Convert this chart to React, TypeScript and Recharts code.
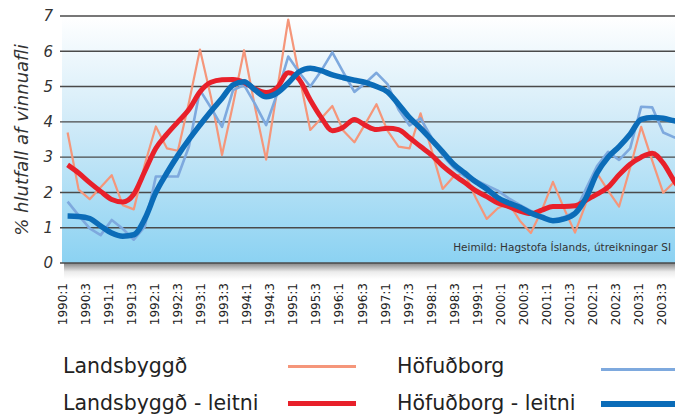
import React from "react";
import { LineChart, Line, XAxis, YAxis, CartesianGrid } from "recharts";

// Quarters of the data series (1990:1 .. 2004:1)
const quarters = [
  "1990:1","1990:2","1990:3","1990:4","1991:1","1991:2","1991:3","1991:4",
  "1992:1","1992:2","1992:3","1992:4","1993:1","1993:2","1993:3","1993:4",
  "1994:1","1994:2","1994:3","1994:4","1995:1","1995:2","1995:3","1995:4",
  "1996:1","1996:2","1996:3","1996:4","1997:1","1997:2","1997:3","1997:4",
  "1998:1","1998:2","1998:3","1998:4","1999:1","1999:2","1999:3","1999:4",
  "2000:1","2000:2","2000:3","2000:4","2001:1","2001:2","2001:3","2001:4",
  "2002:1","2002:2","2002:3","2002:4","2003:1","2003:2","2003:3","2003:4",
  "2004:1",
];

// Landsbyggð (raw)
const landsbyggd = [
  3.70, 2.08, 1.81, 2.15, 2.49, 1.64, 1.52, 2.80, 3.87, 3.25,
  3.18, 4.55, 6.05, 4.70, 3.06, 4.50, 6.03, 4.40, 2.93, 4.90,
  6.90, 5.30, 3.77, 4.10, 4.45, 3.75, 3.42, 3.95, 4.50, 3.75,
  3.30, 3.25, 4.24, 3.20, 2.10, 2.45, 2.55, 1.85, 1.25, 1.55,
  1.69, 1.20, 0.85, 1.50, 2.30, 1.55, 0.86, 1.70, 2.54, 2.05,
  1.60, 2.70, 3.86, 2.90, 1.99, 2.30, 2.60,
];

// Höfuðborg (raw)
const hofudborg = [
  1.74, 1.35, 0.98, 0.79, 1.22, 0.97, 0.66, 1.03, 2.45, 2.45,
  2.45, 3.30, 4.90, 4.40, 3.86, 4.90, 5.04, 4.50, 3.91, 4.80,
  5.85, 5.40, 5.00, 5.45, 5.97, 5.40, 4.85, 5.10, 5.39, 5.07,
  4.35, 3.90, 4.10, 3.55, 3.05, 2.70, 2.45, 2.35, 2.20, 2.05,
  1.83, 1.65, 1.48, 1.30, 1.22, 1.30, 1.45, 2.10, 2.75, 3.15,
  2.92, 3.25, 4.43, 4.41, 3.70, 3.56, 3.50,
];

// Landsbyggð - leitni (trend)
const landsbyggdTrend = [
  2.78, 2.55, 2.28, 2.03, 1.80, 1.73, 1.95, 2.60, 3.25, 3.65,
  4.00, 4.35, 4.85, 5.12, 5.19, 5.20, 5.12, 4.93, 4.83, 4.97,
  5.39, 5.20, 4.62, 4.12, 3.75, 3.85, 4.07, 3.90, 3.78, 3.82,
  3.78, 3.55, 3.30, 3.06, 2.75, 2.50, 2.28, 2.05, 1.88, 1.70,
  1.60, 1.47, 1.40, 1.50, 1.60, 1.60, 1.62, 1.78, 1.95, 2.15,
  2.50, 2.80, 3.00, 3.11, 2.83, 2.32, 1.90,
];

// Höfuðborg - leitni (trend)
const hofudborgTrend = [
  1.33, 1.32, 1.26, 1.05, 0.85, 0.76, 0.80, 1.25, 2.00, 2.55,
  3.05, 3.50, 3.91, 4.30, 4.67, 5.05, 5.14, 4.90, 4.71, 4.82,
  5.10, 5.42, 5.52, 5.45, 5.33, 5.25, 5.18, 5.12, 5.00, 4.85,
  4.50, 4.12, 3.82, 3.49, 3.15, 2.80, 2.55, 2.30, 2.10, 1.85,
  1.70, 1.58, 1.42, 1.30, 1.20, 1.25, 1.40, 1.85, 2.55, 3.00,
  3.30, 3.65, 4.07, 4.12, 4.10, 4.03, 4.00,
];

// Axis tick labels (as printed on the category axis)
const tickLabels = [
  "1990:1","1990:3","1991:1","1991:3","1992:1","1992:3","1993:1","1993:3",
  "1994:1","1994:3","1995:1","1995:3","1996:1","1996:3","1997:1","1997:3",
  "1998:1","1998:3","1999:1","2000:1","2000:3","2001:1","2001:3","2002:1",
  "2002:3","2003:1","2003:3",
];

const yTicks = [0, 1, 2, 3, 4, 5, 6, 7];

const data = quarters.map((q, i) => ({
  q,
  i,
  lands: landsbyggd[i],
  hofud: hofudborg[i],
  landsT: landsbyggdTrend[i],
  hofudT: hofudborgTrend[i],
}));

const labelRows = tickLabels.map((label) => ({ label }));

const FONT = "'DejaVu Sans', Verdana, sans-serif";
const C_ORANGE = "#f5967a";
const C_LIGHTBLUE = "#7ea9de";
const C_RED = "#e8202a";
const C_BLUE = "#0b6cb8";

const CHART_W = 700;
const PLOT_BOTTOM_SPACE = 60;
const CHART_H = 323;
const MARGIN = { top: 16, right: 9, bottom: 0, left: 0 };

const LabelTick = (props: any) => {
  const { x, y, payload } = props;
  const ty = y + 12;
  return (
    <text
      x={x}
      y={ty}
      transform={`rotate(-90 ${x} ${ty})`}
      textAnchor="end"
      dominantBaseline="central"
      fontSize={12}
      fill="#222"
      fontFamily={FONT}
    >
      {payload.value}
    </text>
  );
};

const legendText: React.CSSProperties = {
  position: "absolute",
  fontFamily: FONT,
  fontSize: 20.5,
  color: "#222",
  height: 26,
  lineHeight: "26px",
  whiteSpace: "nowrap",
};

export default function App() {
  return (
    <div
      style={{
        position: "absolute",
        left: 0,
        top: 0,
        width: 675,
        height: 414,
        overflow: "hidden",
        background: "#fff",
      }}
    >
      {/* shadow under plot */}
      <div
        style={{
          position: "absolute",
          left: 64,
          top: 263,
          width: 640,
          height: 16,
          background:
            "linear-gradient(to bottom, rgba(110,110,110,0.85), rgba(200,200,200,0.35) 55%, rgba(255,255,255,0))",
        }}
      />
      {/* main chart: plot, grid, y axis, series */}
      <div style={{ position: "absolute", left: 0, top: 0 }}>
        <LineChart width={CHART_W} height={CHART_H} data={data} margin={{ ...MARGIN, bottom: PLOT_BOTTOM_SPACE }}>
          <defs>
            <linearGradient id="plotBg" x1="0" y1="0" x2="0" y2="1">
              <stop offset="0%" stopColor="#ffffff" />
              <stop offset="45%" stopColor="#cfeaf8" />
              <stop offset="100%" stopColor="#8bd2f2" />
            </linearGradient>
          </defs>
          <CartesianGrid
            vertical={false}
            stroke="#4a4a4a"
            strokeWidth={1.4}
            fill="url(#plotBg)"
            fillOpacity={1}
          />
          <XAxis
            dataKey="i"
            type="number"
            domain={[0, quarters.length - 1]}
            padding={{ left: 5.6, right: 5.7 }}
            hide
          />
          <YAxis
            domain={[0, 7]}
            ticks={yTicks}
            width={62}
            axisLine={false}
            tickLine={{ stroke: "#4a4a4a", strokeWidth: 1.4 }}
            tickSize={2}
            tickMargin={7}
            tick={{
              fontSize: 15,
              fontStyle: "italic",
              fill: "#333",
              fontFamily: FONT,
            }}
          />
          <Line
            dataKey="lands"
            type="linear"
            stroke={C_ORANGE}
            strokeWidth={2.2}
            dot={false}
            strokeLinejoin="round"
            isAnimationActive={false}
          />
          <Line
            dataKey="hofud"
            type="linear"
            stroke={C_LIGHTBLUE}
            strokeWidth={2.6}
            dot={false}
            strokeLinejoin="round"
            isAnimationActive={false}
          />
          <Line
            dataKey="landsT"
            type="monotone"
            stroke={C_RED}
            strokeWidth={5}
            dot={false}
            isAnimationActive={false}
          />
          <Line
            dataKey="hofudT"
            type="monotone"
            stroke={C_BLUE}
            strokeWidth={5.5}
            dot={false}
            isAnimationActive={false}
          />
        </LineChart>
      </div>

      {/* category label axis (printed labels, evenly spaced) */}
      <div style={{ position: "absolute", left: 0, top: 0, pointerEvents: "none" }}>
        <LineChart width={CHART_W} height={CHART_H + 25} data={labelRows} margin={{ ...MARGIN, left: 62 }}>
          <XAxis
            dataKey="label"
            type="category"
            interval={0}
            padding={{ left: 1.3, right: 29.3 }}
            axisLine={false}
            tickLine={false}
            height={PLOT_BOTTOM_SPACE + 25}
            tick={<LabelTick />}
          />
        </LineChart>
      </div>

      {/* y axis title */}
      <div
        style={{
          position: "absolute",
          left: 21,
          top: 140,
          transform: "translate(-50%, -50%) rotate(-90deg)",
          fontFamily: FONT,
          fontStyle: "italic",
          fontSize: 18,
          color: "#333",
          whiteSpace: "nowrap",
        }}
      >
        % hlutfall af vinnuafli
      </div>

      {/* source note */}
      <div
        style={{
          position: "absolute",
          right: 4,
          top: 241,
          fontFamily: FONT,
          fontSize: 10.5,
          color: "#333",
          whiteSpace: "nowrap",
        }}
      >
        Heimild: Hagstofa Íslands, útreikningar SI
      </div>

      {/* legend */}
      <div style={{ ...legendText, left: 63, top: 353 }}>Landsbyggð</div>
      <div style={{ position: "absolute", left: 288, top: 365, width: 68, height: 2.5, background: C_ORANGE }} />
      <div style={{ ...legendText, left: 397, top: 353 }}>Höfuðborg</div>
      <div style={{ position: "absolute", left: 601, top: 368, width: 74, height: 3, background: C_LIGHTBLUE }} />

      <div style={{ ...legendText, left: 63, top: 390 }}>Landsbyggð - leitni</div>
      <div style={{ position: "absolute", left: 288, top: 401, width: 68, height: 5, background: C_RED }} />
      <div style={{ ...legendText, left: 397, top: 390 }}>Höfuðborg - leitni</div>
      <div style={{ position: "absolute", left: 601, top: 401, width: 74, height: 6, background: C_BLUE }} />
    </div>
  );
}
